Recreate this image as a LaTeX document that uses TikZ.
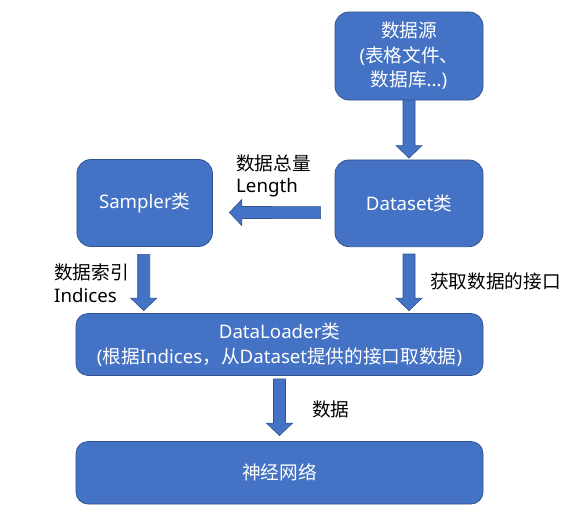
\documentclass[tikz,border=0pt]{standalone}
\usepackage{fontspec}
\setmainfont{Noto Sans}
\newfontfamily\cjk{Noto Sans CJK SC}
\usetikzlibrary{calc}
\definecolor{boxfill}{HTML}{4472C4}
\definecolor{boxline}{HTML}{2F528F}
\tikzset{
  box/.style={draw=boxline, line width=0.75pt, fill=boxfill, text=white,
    align=center, inner sep=0pt, font=\fontsize{18.67}{24.5}\selectfont},
  smallbox/.style={box, rounded corners=14pt},
  widebox/.style={box, rounded corners=12pt, minimum width=407pt, minimum height=62pt},
  lbl/.style={text=black, align=left, inner sep=0pt, anchor=west,
    font=\fontsize{18.67}{22.5}\selectfont},
  arrsty/.style={fill=boxfill, draw=boxline, line width=0.6pt, line join=miter}
}
\newcommand\blockarr[2]{%
  \coordinate (ba-c) at ($(#2)!12.5pt!(#1)$);
  \filldraw[arrsty] ($(#1)!6pt!90:(#2)$) -- ($(ba-c)!6pt!90:(#2)$)
    -- ($(ba-c)!13pt!90:(#2)$) -- (#2) -- ($(ba-c)!13pt!-90:(#2)$)
    -- ($(ba-c)!6pt!-90:(#2)$) -- ($(#1)!6pt!-90:(#2)$) -- cycle;}
\begin{document}
\begin{tikzpicture}[x=1pt, y=-1pt]
  \fill[white] (0,0) rectangle (580,514);
  \useasboundingbox (0,0) rectangle (580,514);

  \node[smallbox, minimum width=148pt, minimum height=88pt] (src) at (409,56)
    {{\cjk 数据源}\\({\cjk 表格文件、}\\{\cjk 数据库}...)};
  \node[smallbox, minimum width=148pt, minimum height=86.7pt] (ds) at (409,203.3)
    {Dataset{\cjk 类}};
  \node[smallbox, minimum width=135.5pt, minimum height=87pt] (smp) at (144.7,203)
    {Sampler{\cjk 类}};
  \node[widebox] (dl) at (279.5,344.5)
    {DataLoader{\cjk 类}\\({\cjk 根据}Indices{\cjk ，从}Dataset{\cjk 提供的接口取数据})};
  \node[widebox, minimum height=62.5pt] (nn) at (279.5,472.75)
    {{\cjk 神经网络}};

  \node[lbl] (lenlbl) at (236,176) {{\cjk 数据总量}\\Length};
  \node[lbl] (idxlbl) at (54,283) {{\cjk 数据索引}\\Indices};
  \node[lbl] (apilbl) at (430,281) {{\cjk 获取数据的接口}};
  \node[lbl] (datlbl) at (312,409) {{\cjk 数据}};

  \coordinate (a1s) at (src.south);
  \coordinate (a1e) at ($(ds.north)+(0,-1.5)$);
  \coordinate (a2s) at ($(ds.west)+(-14,9.3)$);
  \coordinate (a2e) at ($(smp.east)+(16.5,9.5)$);
  \coordinate (a3s) at ($(smp.south)+(-1,7.5)$);
  \coordinate (a3e) at ($(smp.south |- dl.north)+(-1,-2.5)$);
  \coordinate (a4s) at ($(ds.south)+(0,7)$);
  \coordinate (a4e) at ($(ds.south |- dl.north)+(0,-2.5)$);
  \coordinate (a5s) at ($(dl.south)+(0,3)$);
  \coordinate (a5e) at ($(nn.north)+(0,-5.5)$);

  \blockarr{a1s}{a1e}
  \blockarr{a2s}{a2e}
  \blockarr{a3s}{a3e}
  \blockarr{a4s}{a4e}
  \blockarr{a5s}{a5e}
\end{tikzpicture}
\end{document}
